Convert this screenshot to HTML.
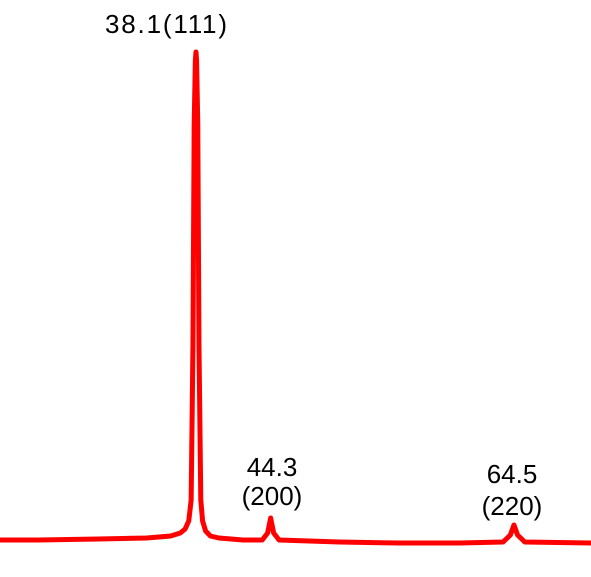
<!DOCTYPE html>
<html><head><meta charset="utf-8"><style>
html,body{margin:0;padding:0;background:#fff;}
svg{display:block;}
text{font-family:"Liberation Sans",Arial,sans-serif;font-size:26px;fill:#000;}
</style></head><body>
<svg width="591" height="577" viewBox="0 0 591 577">
<g id="trace"></g>
<text x="105" y="33" textLength="122">38.1(111)</text>
<text x="272" y="476" text-anchor="middle">44.3</text>
<text x="272" y="505" text-anchor="middle">(200)</text>
<text x="512" y="483" text-anchor="middle">64.5</text>
<text x="512" y="515" text-anchor="middle">(220)</text>
</svg>
<script>
const twoTheta = [21.8,25,30,34,36,36.8,37.2,37.5,37.7,37.85,37.95,38.05,38.1,38.15,38.25,38.35,38.5,38.65,38.9,39.3,40,42,43.6,44.05,44.3,44.55,45.0,50,55,60,63.6,64.2,64.5,64.8,65.4,70.9];
const intensity = [5,5,6,7,9,12,16,24,45,200,420,485,493,485,420,200,45,24,14,9,7,5,5,12,27,12,5,3,2,2,3,10,20,10,3,2];
const xMin = 21.83, pxPerDeg = 12.045, yZero = 545, pxPerCount = 1;
function xScale(t){return (t - xMin) * pxPerDeg;}
function yScale(v){return yZero - v * pxPerCount;}
const pts = twoTheta.map((t,i)=>xScale(t).toFixed(2)+','+yScale(intensity[i]).toFixed(2)).join(' ');
const pl = document.createElementNS('http://www.w3.org/2000/svg','polyline');
pl.setAttribute('points', pts);
pl.setAttribute('fill','none');
pl.setAttribute('stroke','#ff0000');
pl.setAttribute('stroke-width','5');
pl.setAttribute('stroke-linejoin','round');


document.getElementById('trace').appendChild(pl);
</script>
</body></html>
